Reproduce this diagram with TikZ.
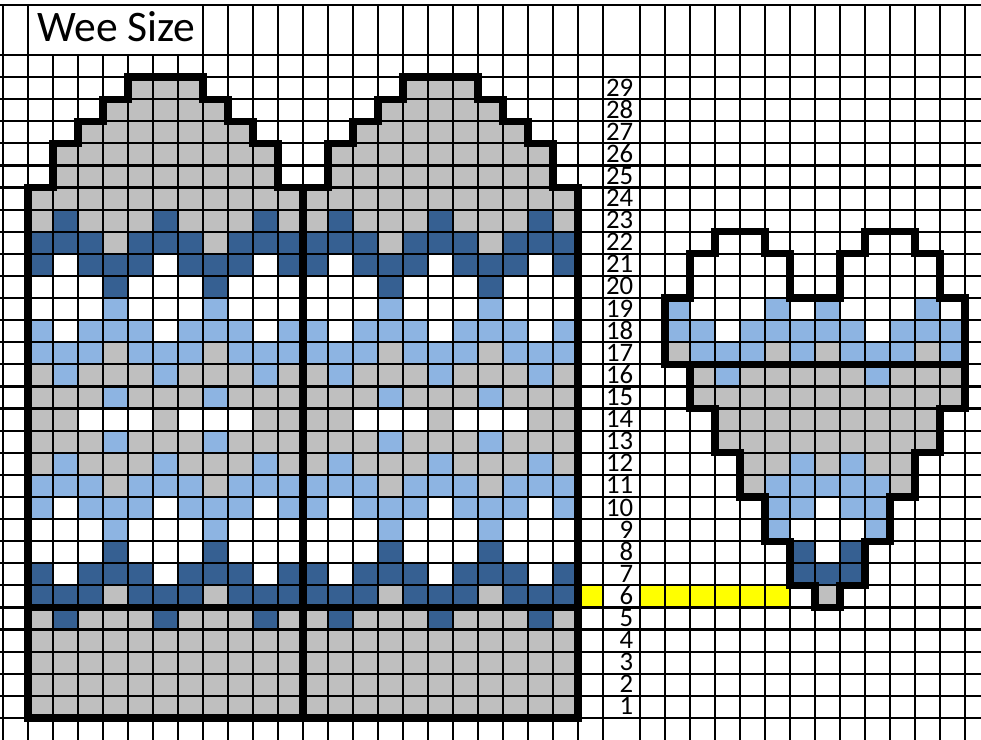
\documentclass[tikz,border=0pt]{standalone}
\usepackage{fontspec}
\setmainfont{Carlito}
\usepackage{xcolor}
\usepackage{tikz}
\definecolor{woolgray}{HTML}{BFBFBF}
\definecolor{woolnavy}{HTML}{366092}
\definecolor{woolsky}{HTML}{8DB4E2}
\definecolor{markyellow}{HTML}{FFFF00}

\tikzset{
  sG/.style={fill=woolgray},
  sD/.style={fill=woolnavy},
  sL/.style={fill=woolsky},
  sW/.style={fill=white},
  sY/.style={fill=markyellow},
  gridline/.style={line width=0.55mm, black},
  outline/.style={line width=1.8mm, black, line join=miter},
  rownum/.style={anchor=base east, inner sep=0pt, text height=11.5pt, text depth=0pt,
                 font=\fontsize{19}{19}\selectfont},
  titletext/.style={anchor=base west, inner sep=0pt, font=\fontsize{31}{31}\selectfont},
}

\newcommand{\mittenpath}{(0,0) -- (0,24) -- (1,24) -- (1,26) -- (2,26) -- (2,27) -- (3,27) -- (3,28) -- (4,28) -- (4,29) -- (7,29) -- (7,28) -- (8,28) -- (8,27) -- (9,27) -- (9,26) -- (10,26) -- (10,24) -- (11,24) -- (11,0) -- cycle}

\begin{document}
\begin{tikzpicture}[x=6.25mm, y=5.525mm]
  \useasboundingbox (-1.12,-0.9955) rectangle (38.12,32.489);
  \clip (-1.12,-0.9955) rectangle (38.12,32.489);
  \fill[white] (-1.12,-0.9955) rectangle (38.12,32.489);

  % mittens: gray ground, then the colour rows
  \foreach \m in {0,11}{
    \begin{scope}[shift={(\m,0)}]
      \fill[woolgray] \mittenpath;
      \foreach \r/\pat in {
        23/{G,D,G,G,G,D,G,G,G,D,G},
        22/{D,D,D,G,D,D,D,G,D,D,D},
        21/{D,W,D,D,D,W,D,D,D,W,D},
        20/{W,W,W,D,W,W,W,D,W,W,W},
        19/{W,W,W,L,W,W,W,L,W,W,W},
        18/{L,W,L,L,L,W,L,L,L,W,L},
        17/{L,L,L,G,L,L,L,G,L,L,L},
        16/{G,L,G,G,G,L,G,G,G,L,G},
        15/{G,G,G,L,G,G,G,L,G,G,G},
        14/{G,G,W,W,W,G,W,W,W,G,G},
        13/{G,G,G,L,G,G,G,L,G,G,G},
        12/{G,L,G,G,G,L,G,G,G,L,G},
        11/{L,L,L,G,L,L,L,G,L,L,L},
        10/{L,W,L,L,L,W,L,L,L,W,L},
        9/{W,W,W,L,W,W,W,L,W,W,W},
        8/{W,W,W,D,W,W,W,D,W,W,W},
        7/{D,W,D,D,D,W,D,D,D,W,D},
        6/{D,D,D,G,D,D,D,G,D,D,D},
        5/{G,D,G,G,G,D,G,G,G,D,G}}{
        \foreach \c [count=\i from 0] in \pat
          \fill[s\c] (\i,\r-1) rectangle ++(1,1);
      }
    \end{scope}
  }
  \fill[sY] (22,5) rectangle (23,6);

  % thumb chart
  \begin{scope}[shift={(24.48,0)}]
    \foreach \r/\pat in {
      19/{W,L,W,W,W,L,W,L,W,W,W,L,W},
      18/{W,L,L,W,L,L,L,L,L,W,L,L,L},
      17/{W,G,L,L,L,G,L,G,L,L,L,G,L},
      16/{W,W,G,L,G,G,G,G,G,L,G,G,G},
      15/{W,W,G,G,G,G,G,G,G,G,G,G,G},
      14/{W,W,W,G,G,G,G,G,G,G,G,G},
      13/{W,W,W,G,G,G,G,G,G,G,G,G},
      12/{W,W,W,W,G,G,L,G,L,G,G},
      11/{W,W,W,W,G,L,L,L,L,L,G},
      10/{W,W,W,W,W,L,L,W,L,L},
      9/{W,W,W,W,W,L,W,W,W,L},
      8/{W,W,W,W,W,W,D,W,D},
      7/{W,W,W,W,W,W,D,D,D},
      6/{Y,Y,Y,Y,Y,Y,W,G}}{
      \foreach \c [count=\i from 0] in \pat
        \fill[s\c] (\i,\r-1) rectangle ++(1,1);
    }
  \end{scope}

  % grid
  \foreach \y in {0,...,30}
    \draw[gridline] (-1.2,\y) -- (38.6,\y);
  \draw[gridline] (-1.2,32.26) -- (38.6,32.26);
  \foreach \x in {-1,...,23}
    \draw[gridline] (\x,-1.2) -- (\x,30);
  \foreach \x in {-1,0,7,8,...,23}
    \draw[gridline] (\x,30) -- (\x,32.26);
  \foreach \x in {24.48,25.48,...,38.48}
    \draw[gridline] (\x,-1.2) -- (\x,32.26);

  % heavy borders
  \foreach \m in {0,11}
    \draw[outline, shift={(\m,0)}] \mittenpath;
  \draw[outline] (0,5) -- (22,5);
  \begin{scope}[shift={(24.48,0)}]
    \draw[outline] (3,22) -- (5,22) -- (5,21) -- (6,21) -- (6,19) -- (8,19) -- (8,21) -- (9,21) -- (9,22) -- (11,22) -- (11,21) -- (12,21) -- (12,19) -- (13,19) -- (13,14) -- (12,14) -- (12,12) -- (11,12) -- (11,10) -- (10,10) -- (10,8) -- (9,8) -- (9,6) -- (8,6) -- (8,5) -- (7,5) -- (7,6) -- (6,6) -- (6,8) -- (5,8) -- (5,10) -- (4,10) -- (4,12) -- (3,12) -- (3,14) -- (2,14) -- (2,16) -- (1,16) -- (1,19) -- (2,19) -- (2,21) -- (3,21) -- cycle;
    \draw[outline] (1,16) -- (13,16);
  \end{scope}

  % labels
  \node[titletext] (title) at (0.36,30.59) {Wee Size};
  \foreach \r in {1,...,29}
    \node[rownum] (n\r) at (24.22,\r-0.86) {\r};
\end{tikzpicture}
\end{document}
